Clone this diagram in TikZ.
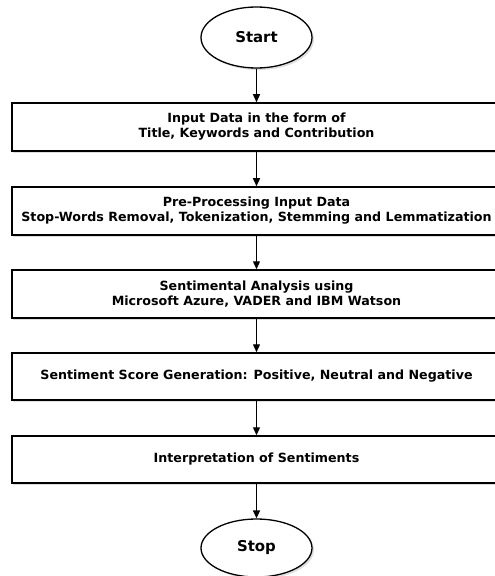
\documentclass[tikz,border=0pt]{standalone}
\usepackage{fontspec}
\setmainfont{DejaVu Sans}
\usetikzlibrary{shapes.geometric,shadows,arrows.meta}
\begin{document}
\begin{tikzpicture}[x=1bp,y=-1bp,
  stepbox/.style={draw=black, line width=1.5bp, fill=white, minimum width=489bp, inner sep=0pt,
    align=center, font=\bfseries\fontsize{12.7}{15}\selectfont,
    drop shadow={opacity=0.25, shadow xshift=1bp, shadow yshift=-2bp}},
  term/.style={ellipse, draw=black, line width=1.3bp, fill=white, minimum width=111bp, minimum height=61bp,
    inner sep=0pt, font=\bfseries\fontsize{15}{18}\selectfont,
    drop shadow={opacity=0.25, shadow xshift=2bp, shadow yshift=-2bp}},
  flow/.style={-{Triangle[length=8bp,width=7bp]}, line width=1.3bp}]
\useasboundingbox (0,0) rectangle (495,576);
\node[term] (start) at (256.5,37.5) {Start};
\node[stepbox, minimum height=48bp] (b1) at (256.5,127) {Input Data in the form of\\Title, Keywords and Contribution};
\node[stepbox, minimum height=48bp] (b2) at (256.5,211) {Pre-Processing Input Data\\Stop-Words Removal, Tokenization, Stemming and Lemmatization};
\node[stepbox, minimum height=48bp] (b3) at (256.5,294) {Sentimental Analysis using\\Microsoft Azure, VADER and IBM Watson};
\node[stepbox, minimum height=47bp] (b4) at (256.5,376.5) {Sentiment Score Generation: Positive, Neutral and Negative};
\node[stepbox, minimum height=47bp] (b5) at (256.5,459.5) {Interpretation of Sentiments};
\node[term, minimum height=58bp] (stop) at (256.5,548) {Stop};
\draw[flow] (start) -- (b1);
\draw[flow] (b1) -- (b2);
\draw[flow] (b2) -- (b3);
\draw[flow] (b3) -- (b4);
\draw[flow] (b4) -- (b5);
\draw[flow] (b5) -- (stop);
\end{tikzpicture}
\end{document}
